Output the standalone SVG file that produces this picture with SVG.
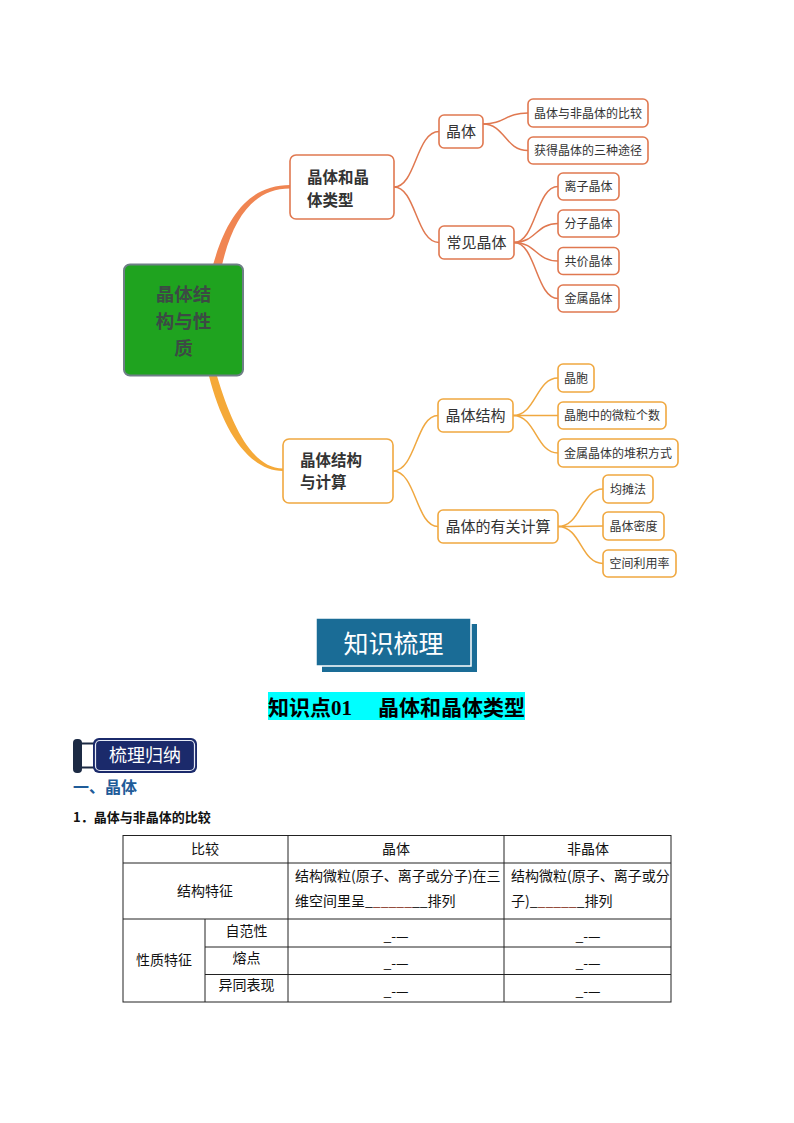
<svg xmlns="http://www.w3.org/2000/svg" width="794" height="1123" viewBox="0 0 794 1123">
<style>
text{font-family:"Noto Sans CJK SC","Noto Sans",sans-serif;}
.on{fill:#fff;stroke:#e07850;stroke-width:1.6;}
.yn{fill:#fff;stroke:#f0a840;stroke-width:1.6;}
.oc{fill:none;stroke:#e07850;stroke-width:1.5;}
.yc{fill:none;stroke:#f0a840;stroke-width:1.5;}
.t1{font-size:15.5px;font-weight:bold;fill:#333;}
.t2{font-size:15px;fill:#333;}
.t3{font-size:12px;fill:#333;}
.t0{font-size:18.5px;font-weight:bold;fill:#3c4a44;}
.tb{font-size:14px;fill:#111;}
.ln{stroke:#222;stroke-width:1;fill:none;}
</style>
<rect width="794" height="1123" fill="#fff"/>
<g id="connectors">
<path d="M213,265 C228,212 252,185 290,185 L290,188.5 C256,188.5 234,214 222,265 Z" fill="#f08552"/>
<path d="M209,376 C222,428 248,471 283,471 L283,468.5 C252,468 232,426 217,376 Z" fill="#f5a938"/>
<path class="oc" d="M394,187 C416,187 416,131.5 439,131.5"/>
<path class="oc" d="M394,187 C416,187 416,242.5 439,242.5"/>
<path class="oc" d="M483,124 C505,124 505,113 528,113"/>
<path class="oc" d="M483,124 C505,124 505,150.5 528,150.5"/>
<path class="oc" d="M514,242.5 C536,242.5 536,186.5 558,186.5"/>
<path class="oc" d="M514,242.5 C536,242.5 536,223.5 558,223.5"/>
<path class="oc" d="M514,242.5 C536,242.5 536,261 558,261"/>
<path class="oc" d="M514,242.5 C536,242.5 536,298.5 558,298.5"/>
<path class="yc" d="M393,471 C416,471 416,415.5 438,415.5"/>
<path class="yc" d="M393,471 C416,471 416,526.5 438,526.5"/>
<path class="yc" d="M513,415.5 C536,415.5 536,378 558,378"/>
<path class="yc" d="M513,415.5 C536,415.5 536,415.5 558,415.5"/>
<path class="yc" d="M513,415.5 C536,415.5 536,453 558,453"/>
<path class="yc" d="M558,526.5 C581,526.5 581,489 603,489"/>
<path class="yc" d="M558,526.5 C581,526.5 581,526 603,526"/>
<path class="yc" d="M558,526.5 C581,526.5 581,563.5 603,563.5"/>
</g>
<g id="root">
<rect x="124" y="264.5" width="119" height="111" rx="6" fill="#1fa31f" stroke="#6e7f86" stroke-width="2"/>
<text class="t0" x="183.5" y="301" text-anchor="middle">晶体结</text>
<text class="t0" x="183.5" y="328" text-anchor="middle">构与性</text>
<text class="t0" x="183.5" y="355" text-anchor="middle">质</text>
</g>
<g id="n-jtlx"><rect class="on" x="290" y="155" width="104" height="64" rx="6"/><text class="t1" x="307" y="182.5">晶体和晶</text><text class="t1" x="307" y="205.5">体类型</text></g>
<g id="n-jt"><rect class="on" x="439" y="115" width="44" height="33" rx="5"/><text class="t2" x="461" y="137" text-anchor="middle">晶体</text></g>
<g id="n-cjjt"><rect class="on" x="439" y="226" width="75" height="33" rx="5"/><text class="t2" x="476.5" y="248" text-anchor="middle">常见晶体</text></g>
<g id="n-bj"><rect class="on" x="528" y="99" width="120" height="28" rx="5"/><text class="t3" x="588" y="117.5" text-anchor="middle">晶体与非晶体的比较</text></g>
<g id="n-tj"><rect class="on" x="528" y="137" width="120" height="27" rx="5"/><text class="t3" x="588" y="155" text-anchor="middle">获得晶体的三种途径</text></g>
<g id="n-lz"><rect class="on" x="558" y="173" width="61" height="27" rx="5"/><text class="t3" x="588.5" y="191" text-anchor="middle">离子晶体</text></g>
<g id="n-fz"><rect class="on" x="558" y="210" width="61" height="27" rx="5"/><text class="t3" x="588.5" y="228" text-anchor="middle">分子晶体</text></g>
<g id="n-gj"><rect class="on" x="558" y="247.5" width="61" height="27" rx="5"/><text class="t3" x="588.5" y="265.5" text-anchor="middle">共价晶体</text></g>
<g id="n-js"><rect class="on" x="558" y="285" width="61" height="27" rx="5"/><text class="t3" x="588.5" y="303" text-anchor="middle">金属晶体</text></g>
<g id="n-jgjs"><rect class="yn" x="283" y="439" width="110" height="64" rx="6"/><text class="t1" x="300" y="465.5">晶体结构</text><text class="t1" x="300" y="488">与计算</text></g>
<g id="n-jtjg"><rect class="yn" x="438" y="399" width="75" height="33" rx="5"/><text class="t2" x="475.5" y="421" text-anchor="middle">晶体结构</text></g>
<g id="n-yjs"><rect class="yn" x="438" y="510" width="120" height="33" rx="5"/><text class="t2" x="498" y="532" text-anchor="middle">晶体的有关计算</text></g>
<g id="n-jb"><rect class="yn" x="558" y="364" width="36" height="28" rx="5"/><text class="t3" x="576" y="382.5" text-anchor="middle">晶胞</text></g>
<g id="n-wl"><rect class="yn" x="558" y="402" width="108" height="27" rx="5"/><text class="t3" x="612" y="420" text-anchor="middle">晶胞中的微粒个数</text></g>
<g id="n-dj"><rect class="yn" x="558" y="439" width="120" height="28" rx="5"/><text class="t3" x="618" y="457.5" text-anchor="middle">金属晶体的堆积方式</text></g>
<g id="n-jtf"><rect class="yn" x="603" y="475" width="50" height="28" rx="5"/><text class="t3" x="628" y="493.5" text-anchor="middle">均摊法</text></g>
<g id="n-md"><rect class="yn" x="603" y="512" width="61" height="28" rx="5"/><text class="t3" x="633.5" y="530.5" text-anchor="middle">晶体密度</text></g>
<g id="n-ly"><rect class="yn" x="603" y="550" width="73" height="27" rx="5"/><text class="t3" x="639.5" y="568" text-anchor="middle">空间利用率</text></g>

<g id="banner">
<rect x="322" y="624" width="155" height="48" fill="#1a6c96"/>
<rect x="316" y="618" width="155" height="48" fill="#1a6c96" stroke="#ffffff" stroke-width="1.5"/>
<text x="393.5" y="653" text-anchor="middle" font-size="25" fill="#fff">知识梳理</text>
</g>
<g id="section-title">
<rect x="268" y="692" width="257" height="28" fill="#00ffff"/>
<text x="268" y="715" font-size="21" font-weight="bold" fill="#000">知识点<tspan font-family="Liberation Serif,serif">01</tspan></text>
<text x="378" y="715" font-size="21" font-weight="bold" fill="#000">晶体和晶体类型</text>
</g>
<g id="badge">
<rect x="73" y="739" width="9" height="34" rx="4" fill="#1c2a44"/>
<line x1="80" y1="743.5" x2="94" y2="743.5" stroke="#1c2a44" stroke-width="2"/>
<line x1="80" y1="767.5" x2="94" y2="767.5" stroke="#1c2a44" stroke-width="2"/>
<rect x="93" y="738" width="104" height="35" rx="6" fill="#1b2a6b"/>
<rect x="95.5" y="740.5" width="99" height="30" rx="4.5" fill="none" stroke="#e8ecf6" stroke-width="1.2"/>
<text x="145" y="762" text-anchor="middle" font-size="18" fill="#fff">梳理归纳</text>
</g>
<text x="73" y="793" font-size="16" font-weight="bold" fill="#1f5c99">一、晶体</text>
<text x="73" y="822" font-size="13" font-weight="bold" fill="#111">1．晶体与非晶体的比较</text>

<g id="table">
<rect class="ln" x="123" y="835.5" width="548" height="166.5"/>
<line class="ln" x1="123" y1="863" x2="671" y2="863"/>
<line class="ln" x1="123" y1="919" x2="671" y2="919"/>
<line class="ln" x1="205" y1="947" x2="671" y2="947"/>
<line class="ln" x1="205" y1="974.5" x2="671" y2="974.5"/>
<line class="ln" x1="288" y1="835.5" x2="288" y2="1002"/>
<line class="ln" x1="504" y1="835.5" x2="504" y2="1002"/>
<line class="ln" x1="205" y1="919" x2="205" y2="1002"/>
<text class="tb" x="205" y="854" text-anchor="middle">比较</text>
<text class="tb" x="396" y="854" text-anchor="middle">晶体</text>
<text class="tb" x="588" y="854" text-anchor="middle">非晶体</text>
<text class="tb" x="205" y="896" text-anchor="middle">结构特征</text>
<text class="tb" x="295" y="881">结构微粒(原子、离子或分子)在三</text>
<text class="tb" x="295" y="906">维空间里呈_<tspan fill="#8a3a2a">_____</tspan>__排列</text>
<text class="tb" x="511" y="881">结构微粒(原子、离子或分</text>
<text class="tb" x="511" y="906">子)_<tspan fill="#8a3a2a">_____</tspan>_排列</text>
<text class="tb" x="164" y="965" text-anchor="middle">性质特征</text>
<text class="tb" x="246.5" y="936" text-anchor="middle">自范性</text>
<text class="tb" x="246.5" y="963" text-anchor="middle">熔点</text>
<text class="tb" x="246.5" y="990" text-anchor="middle">异同表现</text>
<text class="tb" x="396" y="941" text-anchor="middle">_-—</text>
<text class="tb" x="396" y="968" text-anchor="middle">_-—</text>
<text class="tb" x="396" y="996" text-anchor="middle">_-—</text>
<text class="tb" x="588" y="941" text-anchor="middle">_-—</text>
<text class="tb" x="588" y="968" text-anchor="middle">_-—</text>
<text class="tb" x="588" y="996" text-anchor="middle">_-—</text>
</g>
</svg>
